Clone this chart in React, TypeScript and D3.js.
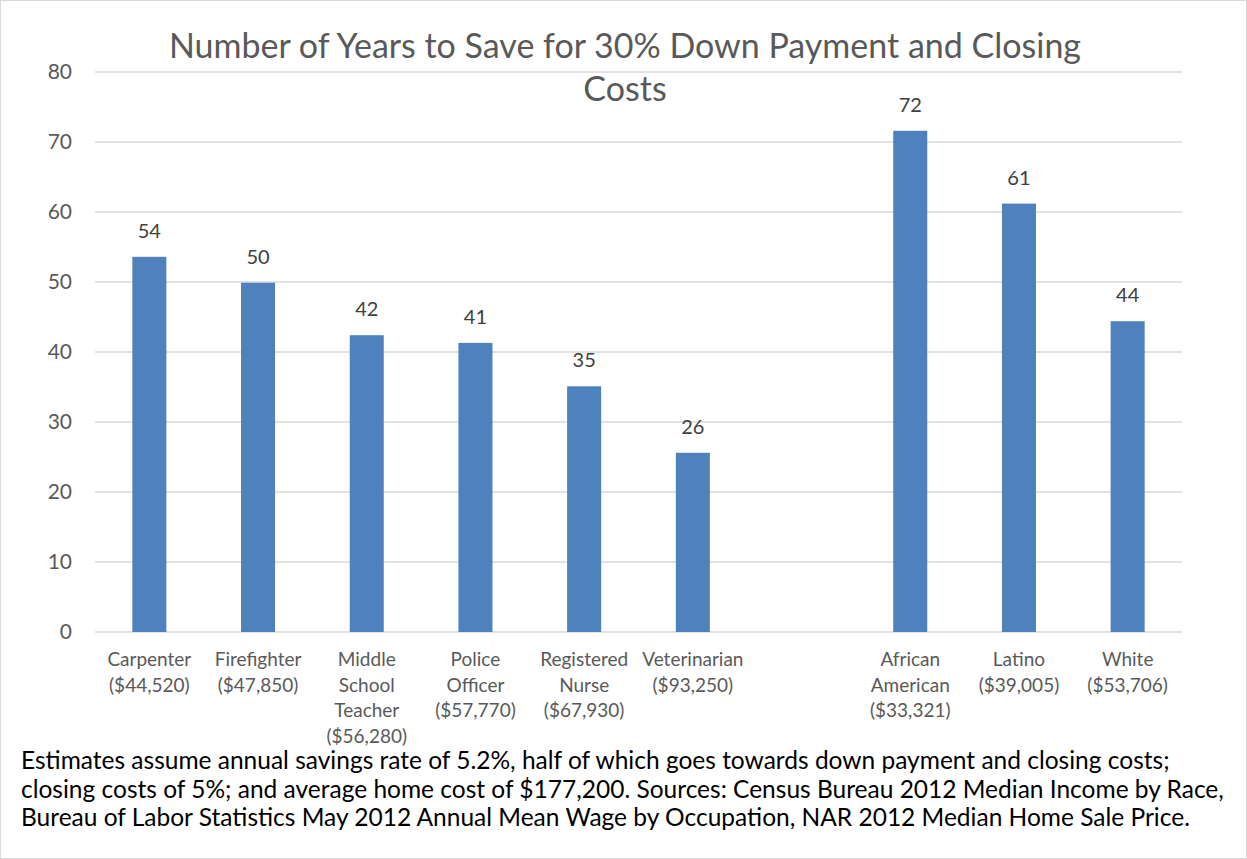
import { useEffect, useRef } from "react"
import * as d3 from "d3"

// label lines are split the way the source chart wraps them
const categories = [
  "Carpenter\n($44,520)",
  "Firefighter\n($47,850)",
  "Middle\nSchool\nTeacher\n($56,280)",
  "Police\nOfficer\n($57,770)",
  "Registered\nNurse\n($67,930)",
  "Veterinarian\n($93,250)",
  "",
  "African\nAmerican\n($33,321)",
  "Latino\n($39,005)",
  "White\n($53,706)",
]
const years: (number | null)[] = [53.6, 49.9, 42.4, 41.3, 35.1, 25.6, null, 71.6, 61.2, 44.4]
const yTicks = [0, 10, 20, 30, 40, 50, 60, 70, 80]
const titleLines = ["Number of Years to Save for 30% Down Payment and Closing", "Costs"]
const noteLines = [
  "Estimates assume annual savings rate of 5.2%, half of which goes towards down payment and closing costs;",
  "closing costs of 5%; and average home cost of $177,200. Sources: Census Bureau 2012 Median Income by Race,",
  "Bureau of Labor Statistics May 2012 Annual Mean Wage by Occupation, NAR 2012 Median Home Sale Price.",
]

const W = 1247
const H = 859
const FONT = "Lato, 'Open Sans', sans-serif"

const App = () => {
  const svgRef = useRef<SVGSVGElement | null>(null)

  useEffect(() => {
    const svg = d3.select(svgRef.current)
    svg.selectAll("*").remove()

    const margin = { top: 72, right: 65, bottom: 227, left: 95 }

    // outer frame
    svg
      .append("rect")
      .attr("x", 0.5)
      .attr("y", 0.5)
      .attr("width", W - 1)
      .attr("height", H - 1)
      .attr("fill", "white")
      .attr("stroke", "#d9d9d9")

    const x = d3
      .scaleBand()
      .domain(categories.map((_, i) => String(i)))
      .range([margin.left, W - margin.right])
      .paddingInner(0)
      .paddingOuter(0)

    const y = d3
      .scaleLinear()
      .domain([0, 80])
      .range([H - margin.bottom, margin.top])

    const barW = x.bandwidth() * 0.313

    // gridlines
    svg
      .append("g")
      .selectAll("line")
      .data(yTicks)
      .enter()
      .append("line")
      .attr("x1", margin.left)
      .attr("x2", W - margin.right)
      .attr("y1", (d) => y(d))
      .attr("y2", (d) => y(d))
      .attr("stroke", "#d9d9d9")
      .attr("stroke-width", 1.3)

    // y tick labels
    svg
      .append("g")
      .selectAll("text")
      .data(yTicks)
      .enter()
      .append("text")
      .attr("x", 72)
      .attr("y", (d) => y(d))
      .attr("dy", "0.35em")
      .attr("text-anchor", "end")
      .attr("font-family", FONT)
      .attr("font-size", 21)
      .attr("fill", "#595959")
      .text((d) => d)

    const rows = categories.map((c, i) => ({ key: String(i), label: c, value: years[i] }))

    // bars
    svg
      .append("g")
      .selectAll("rect")
      .data(rows.filter((d) => d.value !== null))
      .enter()
      .append("rect")
      .attr("x", (d) => x(d.key)! + (x.bandwidth() - barW) / 2)
      .attr("y", (d) => y(d.value!))
      .attr("width", barW)
      .attr("height", (d) => y(0) - y(d.value!))
      .attr("fill", "#4f81bd")

    // value labels
    svg
      .append("g")
      .selectAll("text")
      .data(rows.filter((d) => d.value !== null))
      .enter()
      .append("text")
      .attr("x", (d) => x(d.key)! + x.bandwidth() / 2)
      .attr("y", (d) => y(d.value!) - 19)
      .attr("text-anchor", "middle")
      .attr("font-family", FONT)
      .attr("font-size", 20)
      .attr("fill", "#404040")
      .text((d) => Math.round(d.value!))

    // category labels
    const cat = svg
      .append("g")
      .selectAll("text")
      .data(rows)
      .enter()
      .append("text")
      .attr("text-anchor", "middle")
      .attr("font-family", FONT)
      .attr("font-size", 19)
      .attr("fill", "#595959")
    cat
      .selectAll("tspan")
      .data((d) => (d.label ? d.label.split("\n").map((t) => ({ t, key: d.key })) : []))
      .enter()
      .append("tspan")
      .attr("x", (d) => x(d.key)! + x.bandwidth() / 2)
      .attr("y", (_, j) => y(0) + 34 + j * 25.7)
      .text((d) => d.t)

    // title
    svg
      .append("g")
      .selectAll("text")
      .data(titleLines)
      .enter()
      .append("text")
      .attr("x", 625)
      .attr("y", (_, i) => 58 + i * 43)
      .attr("text-anchor", "middle")
      .attr("font-family", FONT)
      .attr("font-size", 34)
      .attr("fill", "#595959")
      .text((d) => d)

    // footnote
    svg
      .append("g")
      .selectAll("text")
      .data(noteLines)
      .enter()
      .append("text")
      .attr("x", 21)
      .attr("y", (_, i) => 769 + i * 28.7)
      .attr("font-family", FONT)
      .attr("font-size", 24.5)
      .attr("fill", "#000")
      .text((d) => d)
  }, [])

  return (
    <svg
      ref={svgRef}
      width={W}
      height={H}
      style={{ position: "absolute", left: 0, top: 0, background: "white" }}
    />
  )
}

export default App
